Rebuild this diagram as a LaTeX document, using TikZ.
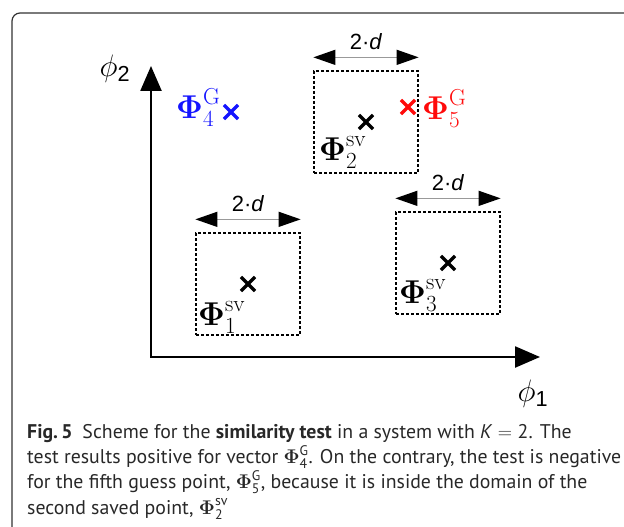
\RequirePackage{fix-cm}
\documentclass[tikz,border=0pt]{standalone}
\usepackage{amsmath, amssymb}
\usepackage{fontspec}
\newfontfamily\capfont{PT Sans}
\newfontfamily\dimfont{Liberation Sans}
\usetikzlibrary{arrows.meta, shapes.misc, positioning}
\definecolor{capgray}{RGB}{40,40,40}
\definecolor{guessblue}{RGB}{20,20,255}
\definecolor{guessred}{RGB}{255,10,10}

\tikzset{
  frame/.style={draw=black!80, line width=1.2pt, rounded corners=8pt},
  axis/.style={line width=2.4pt, {Triangle[length=25pt,width=21pt]}-{Triangle[length=25pt,width=21pt]}},
  domainbox/.style={draw, line width=1.3pt, dash pattern=on 3pt off 2pt, minimum width=104pt, minimum height=102pt, inner sep=0},
  dimarrow/.style={draw=black!40, line width=1.3pt, {Triangle[length=22pt,width=15pt,color=black]}-{Triangle[length=22pt,width=15pt,color=black]}},
  xpt/.style={cross out, draw, line width=3.2pt, minimum size=11pt, inner sep=0},
  philabel/.style={inner sep=0, font=\fontsize{33}{38}\selectfont},
  axlabel/.style={inner sep=0, font=\fontsize{31}{36}\selectfont},
  dimlabel/.style={inner sep=0, font=\dimfont\fontsize{22}{26}\selectfont},
}

\begin{document}
\begin{tikzpicture}[x=1pt, y=-1pt]
    \path[use as bounding box, clip] (0,0) rectangle (624,527);
    \draw[frame] (12,560) -- (12,13) -- (660,13);

    \coordinate (o) at (151,357);
    \coordinate (ytip) at (151,66);
    \coordinate (xtip) at (540,357);
    \draw[axis] (ytip) -- (o) -- (xtip);
    \node[axlabel] (phi2) at (115,69) {$\phi_{\text{\dimfont 2}}$};
    \node[axlabel] (phi1) at (533,394) {$\phi_{\text{\dimfont 1}}$};

    \foreach \n/\x/\y in {1/248/284, 2/366/122, 3/448/263} {
        \node[domainbox] (box\n) at (\x,\y) {};
        \node[xpt] (sv\n) at (box\n.center) {};
        \draw[dimarrow] ([yshift=13pt]box\n.north west) -- ([yshift=13pt]box\n.north east)
            node[dimlabel, midway, above=7pt] {2·\textit{d}};
    }
    \node[philabel, anchor=base west] (lab1) at (198,325) {$\boldsymbol{\Phi}^{\mathrm{sv}}_{1}$};
    \node[philabel, anchor=base west] (lab2) at (319,160) {$\boldsymbol{\Phi}^{\mathrm{sv}}_{2}$};
    \node[philabel, anchor=base west] (lab3) at (399,303) {$\boldsymbol{\Phi}^{\mathrm{sv}}_{3}$};

    \node[xpt, guessblue] (g4) at (231,112) {};
    \node[philabel, anchor=base west, guessblue] (lab4) at (176,118) {$\boldsymbol{\Phi}^{\mathrm{G}}_{4}$};
    \node[xpt, guessred] (g5) at (408,107) {};
    \node[philabel, anchor=base west, guessred] (lab5) at (422,119) {$\boldsymbol{\Phi}^{\mathrm{G}}_{5}$};

    \node[anchor=north west, inner sep=0, align=left, text=capgray, font=\capfont\fontsize{19.8}{25.3}\selectfont] (cap) at (27,424)
        {\textbf{Fig.\,5}\enspace Scheme for the \textbf{similarity test} in a system with \textit{K}\;$=$\;2. The\\
         test results positive for vector $\boldsymbol{\Phi}^{\text{G}}_{\text{4}}$. On the contrary, the test is negative\\
         for the fifth guess point, $\boldsymbol{\Phi}^{\text{G}}_{\text{5}}$, because it is inside the domain of the\\
         second saved point, $\boldsymbol{\Phi}^{\text{sv}}_{\text{2}}$};
\end{tikzpicture}
\end{document}
